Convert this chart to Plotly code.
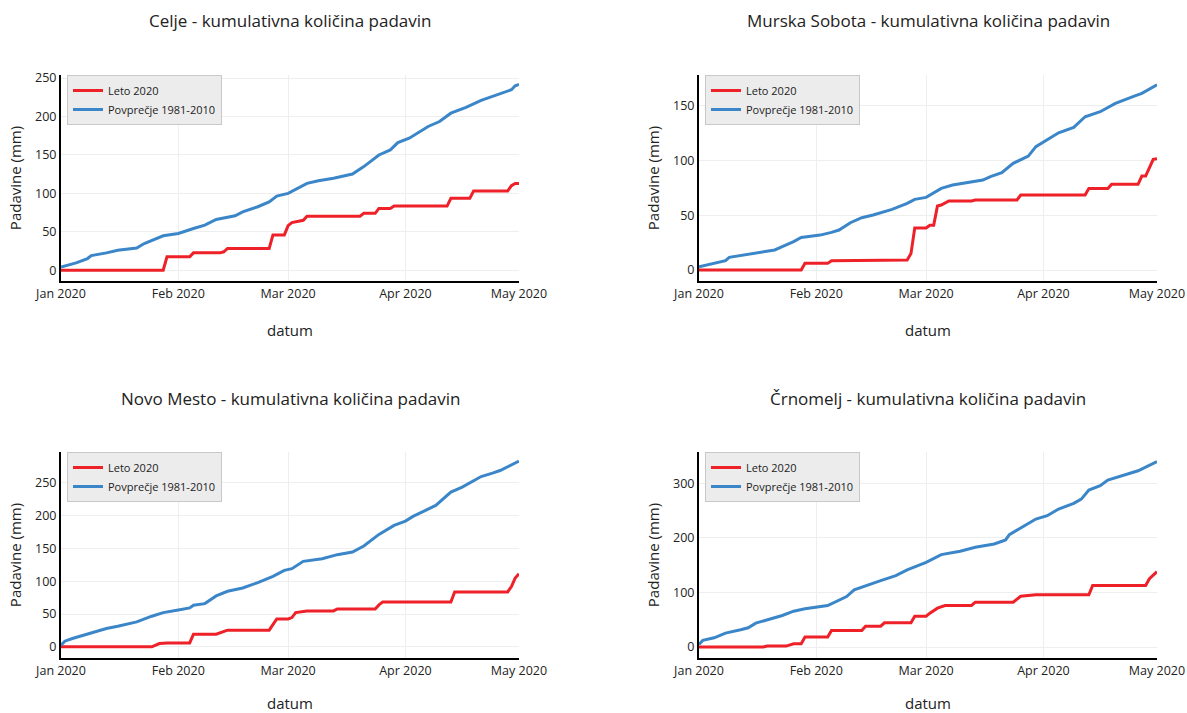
import pandas as pd
import plotly.graph_objects as go
from plotly.subplots import make_subplots

START = "2020-01-01"
stations = ["Celje", "Murska Sobota", "Novo Mesto", "Črnomelj"]
series_names = ["Leto 2020", "Povprečje 1981-2010"]

# Celje
celje_2020_days = [0, 27, 28, 34, 35, 42, 43, 44, 55, 56, 59, 60, 61, 63, 64, 65, 79, 80, 83, 84, 87, 88, 102, 103, 108, 109, 118, 119, 120, 121]
celje_2020_vals = [0, 0, 17.4, 17.4, 22.6, 22.6, 24, 28.3, 28.3, 46, 46, 58, 62, 64, 65, 70.4, 70.4, 74, 74, 80.4, 80.4, 83.5, 83.5, 93.5, 93.5, 103, 103, 110, 113, 113]
celje_avg_days = [0, 4, 7, 8, 12, 15, 20, 22, 27, 31, 35, 38, 41, 46, 48, 52, 55, 57, 60, 65, 68, 72, 77, 80, 84, 87, 89, 92, 97, 100, 103, 107, 111, 116, 119, 120, 121]
celje_avg_vals = [4.3, 9.6, 15.2, 19, 22.6, 26, 29, 34.8, 44.8, 47.8, 54.3, 58.7, 66, 70.9, 76, 82.6, 89, 96.5, 100, 113, 116.5, 119.6, 125.2, 134.8, 150, 156.5, 166, 171.7, 187, 193.5, 204.3, 212, 221, 229.6, 234.8, 240, 241.7]

# Murska Sobota
murska_2020_days = [0, 27, 28, 34, 35, 40, 41, 55, 56, 57, 60, 61, 62, 63, 64, 66, 72, 73, 84, 85, 102, 103, 108, 109, 116, 117, 118, 120, 121]
murska_2020_vals = [0, 0, 6.1, 6.1, 8.5, 8.5, 9.1, 9.1, 15, 38.3, 38.3, 40.8, 40.8, 58.4, 59.3, 63, 63, 63.9, 63.9, 68.5, 68.5, 74.5, 74.5, 78.2, 78.2, 85.8, 85.8, 101, 101.5]
murska_avg_days = [0, 4, 7, 8, 12, 15, 20, 22, 25, 27, 32, 35, 37, 40, 43, 46, 51, 55, 57, 60, 64, 67, 72, 75, 77, 80, 83, 87, 89, 91, 95, 99, 102, 106, 110, 115, 117, 121]
murska_avg_vals = [3, 6.1, 8.5, 11.6, 13.7, 15.8, 18.3, 21.3, 25.9, 29.8, 31.9, 34.4, 36.5, 43.2, 47.8, 50.2, 55.4, 60.8, 64.5, 66.3, 74.5, 77.6, 80.6, 82.1, 85.2, 88.8, 97.4, 104, 112.6, 117.1, 125.3, 130.2, 139.9, 144.5, 152.1, 158.8, 161.2, 169.1]

# Novo Mesto
novo_2020_days = [0, 24, 26, 28, 34, 35, 41, 42, 44, 55, 57, 60, 61, 62, 65, 72, 73, 83, 84, 85, 103, 104, 118, 119, 120, 121]
novo_2020_vals = [0, 0, 5, 6, 6, 19.3, 19.3, 21.3, 25.4, 25.4, 42.6, 42.6, 44.6, 52.2, 54.8, 54.8, 57.8, 57.8, 64, 68.5, 68.5, 83.7, 83.7, 92, 105, 111.6]
novo_avg_days = [0, 1, 3, 5, 9, 12, 15, 20, 24, 27, 31, 34, 35, 38, 41, 44, 48, 52, 56, 59, 61, 64, 69, 73, 77, 80, 84, 88, 91, 93, 99, 103, 106, 111, 114, 116, 121]
novo_avg_vals = [2.5, 8.6, 12.7, 16.2, 23.8, 27.9, 31.4, 38, 46.7, 52.2, 56.3, 59.3, 63.4, 65.9, 77.6, 84.7, 89.8, 97.9, 107.5, 116.6, 119.2, 130.3, 134.4, 140.5, 144.5, 153.7, 171.4, 185.1, 191.7, 198.8, 215.5, 235.8, 243.4, 259.6, 264.7, 268.8, 283]

# Črnomelj
crn_2020_days = [0, 17, 18, 23, 25, 27, 28, 34, 35, 43, 44, 48, 49, 56, 57, 60, 61, 62, 63, 65, 72, 73, 83, 85, 89, 103, 104, 118, 119, 121]
crn_2020_vals = [0, 0, 1.8, 1.8, 6.1, 6.1, 18.3, 18.3, 30.4, 30.4, 38.3, 38.3, 44.4, 44.4, 56.6, 56.6, 62, 66, 71.2, 76.1, 76.1, 82.2, 82.2, 93.1, 95.6, 95.6, 112.6, 112.6, 125, 138]
crn_avg_days = [0, 1, 4, 7, 11, 13, 15, 19, 22, 25, 28, 34, 37, 39, 41, 44, 48, 52, 55, 60, 64, 69, 73, 78, 81, 82, 86, 89, 92, 95, 99, 101, 103, 106, 108, 112, 116, 121]
crn_avg_vals = [4.9, 12.2, 17, 25.6, 31.6, 35.3, 43.8, 51.7, 57.8, 65.7, 70, 76.1, 85.2, 92.5, 104.7, 112.6, 121.7, 130.9, 141.2, 155.2, 169.2, 175.3, 182.6, 188.7, 196, 205.7, 222.2, 234.3, 240.4, 252.6, 262.9, 270.8, 287.3, 295.2, 305.5, 313.4, 322.6, 339.6]

y_ranges = [[-14, 254], [-10, 178], [-17, 297], [-20, 357]]
y_dticks = [50, 50, 50, 100]

data = [
    (celje_2020_days, celje_2020_vals, celje_avg_days, celje_avg_vals),
    (murska_2020_days, murska_2020_vals, murska_avg_days, murska_avg_vals),
    (novo_2020_days, novo_2020_vals, novo_avg_days, novo_avg_vals),
    (crn_2020_days, crn_2020_vals, crn_avg_days, crn_avg_vals),
]

RED = "#EE2028"
BLUE = "#3A86C8"
FONT = "Open Sans"


def to_dates(days):
    return pd.Timestamp(START) + pd.to_timedelta(days, unit="D")


fig = make_subplots(rows=2, cols=2)

W, H = 1187, 713
ml, mr, mt, mb = 61, W - 1157, 75, H - 658
pw, ph = W - ml - mr, H - mt - mb


def fx(v):
    return (v - ml) / pw


def fy(v):
    return (H - mb - v) / ph


x_domains = [[fx(61), fx(519)], [fx(699), fx(1157)]]
y_domains = [[fy(281), fy(75)], [fy(658), fy(452)]]

legend_names = ["legend", "legend2", "legend3", "legend4"]
layout_upd = {}
annotations = []
for i, st in enumerate(stations):
    r, c = divmod(i, 2)
    d20, v20, dav, vav = data[i]
    fig.add_trace(go.Scatter(x=to_dates(d20), y=v20, mode="lines", name=series_names[0],
                             line=dict(color=RED, width=3), legend=legend_names[i]), row=r + 1, col=c + 1)
    fig.add_trace(go.Scatter(x=to_dates(dav), y=vav, mode="lines", name=series_names[1],
                             line=dict(color=BLUE, width=3), legend=legend_names[i]), row=r + 1, col=c + 1)
    xd = x_domains[c]
    yd = y_domains[r]
    sfx = "" if i == 0 else str(i + 1)
    layout_upd["xaxis" + sfx] = dict(
        domain=xd, range=["2020-01-01", "2020-05-01"], dtick="M1", tickformat="%b %Y",
        tick0="2020-01-01", showline=True, linecolor="black", linewidth=2,
        showgrid=True, gridcolor="#eeeeee", gridwidth=1, zeroline=False, ticks="",
        automargin=False,
        tickfont=dict(family=FONT, size=12.5, color="#222"),
        title=dict(text="datum", font=dict(family=FONT, size=15, color="#222"), standoff=24),
    )
    layout_upd["yaxis" + sfx] = dict(
        domain=yd, range=y_ranges[i], dtick=y_dticks[i], tick0=0,
        showline=True, linecolor="black", linewidth=2,
        showgrid=True, gridcolor="#eeeeee", gridwidth=1, zeroline=False, ticks="",
        automargin=False,
        tickfont=dict(family=FONT, size=12.5, color="#222"),
        title=dict(text="Padavine (mm)", font=dict(family=FONT, size=15, color="#222"), standoff=10),
    )
    lx = fx(67) if c == 0 else fx(705)
    layout_upd[legend_names[i]] = dict(
        x=lx, y=yd[1], xanchor="left", yanchor="top",
        bgcolor="#ececec", bordercolor="#c8c8c8", borderwidth=1,
        font=dict(family=FONT, size=11, color="#222"), itemwidth=30,
    )
    title_y = fy(20) if r == 0 else fy(398)
    annotations.append(dict(
        text=f"{st} - kumulativna količina padavin", x=(xd[0] + xd[1]) / 2, y=title_y,
        xref="paper", yref="paper", xanchor="center", yanchor="middle", showarrow=False,
        font=dict(family=FONT, size=17, color="#222"),
    ))

fig.update_layout(**layout_upd)
fig.update_layout(
    width=W, height=H, margin=dict(l=ml, r=mr, t=mt, b=mb, autoexpand=False),
    paper_bgcolor="white", plot_bgcolor="white",
    font=dict(family=FONT, color="#222"),
    annotations=annotations, showlegend=True,
)

fig.write_html(
    "out.html",
    config={"displayModeBar": False},
    post_script="document.body.style.margin='0';document.body.style.overflow='hidden';",
)
